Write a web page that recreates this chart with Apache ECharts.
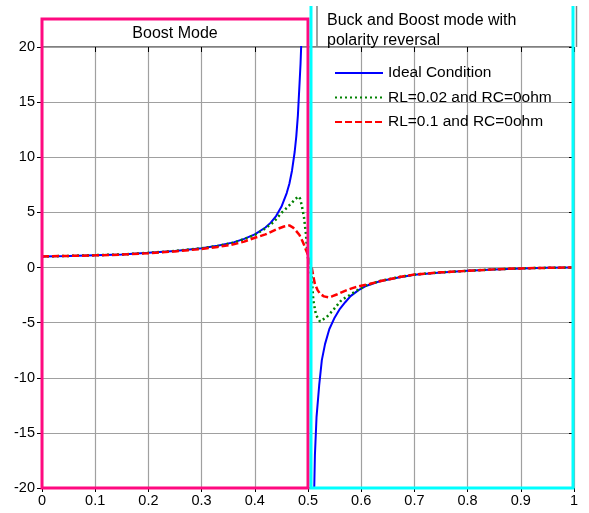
<!DOCTYPE html>
<html>
<head>
<meta charset="utf-8">
<script src="https://cdn.jsdelivr.net/npm/echarts@6/dist/echarts.min.js"></script>
<style>
  html, body { margin: 0; padding: 0; background: #fff; }
  #chart { width: 589px; height: 513px; }
</style>
</head>
<body>
<div id="chart"></div>
<script>
// Voltage gain versus duty ratio D

// Ideal converter, boost branch (D < 0.5)
const dutyIdealBoost = [0, 0.05, 0.1, 0.15, 0.2, 0.25, 0.3, 0.33, 0.36, 0.38, 0.4, 0.42, 0.43, 0.44, 0.45, 0.46, 0.465, 0.47, 0.475, 0.478, 0.481, 0.484, 0.486, 0.4875];
const gainIdealBoost = [1.0, 1.05, 1.12, 1.18, 1.33, 1.5, 1.75, 1.97, 2.28, 2.6, 3.0, 3.63, 4.07, 4.67, 5.5, 6.75, 7.6, 8.8, 10.5, 11.9, 13.8, 16.6, 18.5, 20.5];

// Ideal converter, buck-boost branch with polarity reversal (D > 0.5)
const dutyIdealBuckBoost = [0.5115, 0.513, 0.516, 0.521, 0.526, 0.532, 0.54, 0.55, 0.56, 0.57, 0.58, 0.595, 0.61, 0.635, 0.67, 0.7, 0.75, 0.8, 0.85, 0.9, 0.95, 1.0];
const gainIdealBuckBoost = [-20.5, -17.0, -13.6, -10.7, -8.4, -6.95, -5.6, -4.55, -3.75, -3.15, -2.6, -2.05, -1.65, -1.25, -0.9, -0.65, -0.45, -0.3, -0.18, -0.08, -0.03, 0.0];

// RL = 0.02 ohm, RC = 0 ohm
const dutyRL002 = [0, 0.05, 0.1, 0.15, 0.2, 0.25, 0.3, 0.33, 0.36, 0.38, 0.4, 0.42, 0.435, 0.45, 0.46, 0.47, 0.476, 0.482, 0.485, 0.488, 0.4925, 0.496, 0.4987, 0.502, 0.507, 0.51, 0.515, 0.5225, 0.535, 0.5475, 0.563, 0.58, 0.595, 0.61, 0.635, 0.67, 0.7, 0.75, 0.8, 0.85, 0.9, 0.95, 1.0];
const gainRL002 = [1.0, 1.05, 1.12, 1.18, 1.33, 1.5, 1.75, 1.95, 2.25, 2.58, 2.95, 3.55, 4.1, 4.95, 5.4, 5.9, 6.2, 6.45, 6.25, 5.7, 4.55, 3.1, 1.3, 0.2, -0.9, -3.0, -4.3, -4.9, -4.5, -3.85, -2.95, -2.45, -2.0, -1.62, -1.23, -0.88, -0.64, -0.44, -0.3, -0.17, -0.08, -0.03, 0.0];

// RL = 0.1 ohm, RC = 0 ohm
const dutyRL01 = [0, 0.05, 0.1, 0.15, 0.2, 0.25, 0.3, 0.33, 0.36, 0.38, 0.4, 0.42, 0.44, 0.455, 0.465, 0.472, 0.478, 0.484, 0.489, 0.4925, 0.496, 0.4987, 0.503, 0.507, 0.51, 0.513, 0.518, 0.523, 0.53, 0.538, 0.546, 0.554, 0.563, 0.573, 0.585, 0.6, 0.617, 0.635, 0.67, 0.7, 0.75, 0.8, 0.85, 0.9, 0.95, 1.0];
const gainRL01 = [1.0, 1.05, 1.1, 1.17, 1.3, 1.46, 1.68, 1.86, 2.1, 2.35, 2.7, 3.0, 3.45, 3.72, 3.82, 3.62, 3.3, 2.95, 2.45, 2.06, 1.6, 1.3, 0.6, 0.0, -0.8, -1.5, -2.05, -2.4, -2.62, -2.7, -2.6, -2.45, -2.25, -2.05, -1.85, -1.65, -1.48, -1.25, -0.88, -0.64, -0.44, -0.3, -0.17, -0.08, -0.03, 0.0];

const seriesNames = ['Ideal Condition', 'RL=0.02 and RC=0ohm', 'RL=0.1 and RC=0ohm'];
const regionTitles = ['Boost Mode', 'Buck and Boost mode with', 'polarity reversal'];

const pairs = (xs, ys) => xs.map((x, i) => [x, ys[i]]);

// the ideal gain is unbounded at D = 0.5, so the two branches are split by an empty point
const idealData = pairs(dutyIdealBoost, gainIdealBoost)
  .concat([[0.5, null]])
  .concat(pairs(dutyIdealBuckBoost, gainIdealBuckBoost));

const FONT = '"Liberation Sans", Arial, sans-serif';
const GRID = { left: 42, right: 15, top: 47, bottom: 25 };
const GRID_LINE = { color: '#a0a0a0', width: 1.2 };

const chart = echarts.init(document.getElementById('chart'), null, { renderer: 'canvas' });

const tickStyle = { color: '#000', width: 1 };

const option = {
  animation: false,
  backgroundColor: '#ffffff',
  grid: { ...GRID, show: true, borderColor: '#000', borderWidth: 1, backgroundColor: 'transparent' },
  xAxis: [
    {
      type: 'value',
      min: 0, max: 1, interval: 0.1,
      axisLine: { show: false, onZero: false },
      axisTick: { show: true, inside: false, length: 4, lineStyle: tickStyle },
      axisLabel: { color: '#000', fontSize: 14.5, fontFamily: FONT, margin: 5 },
      splitLine: { show: true, lineStyle: GRID_LINE }
    },
    {
      type: 'value',
      position: 'top',
      min: 0, max: 1, interval: 0.1,
      axisLine: { show: false, onZero: false },
      axisTick: { show: true, inside: true, length: 5, lineStyle: tickStyle },
      axisLabel: { show: false },
      splitLine: { show: false }
    }
  ],
  yAxis: [
    {
      type: 'value',
      min: -20, max: 20, interval: 5,
      axisLine: { show: false, onZero: false },
      axisTick: { show: true, inside: false, length: 5, lineStyle: tickStyle },
      axisLabel: { color: '#000', fontSize: 14.5, fontFamily: FONT, margin: 7 },
      splitLine: { show: true, lineStyle: GRID_LINE }
    },
    {
      type: 'value',
      position: 'right',
      min: -20, max: 20, interval: 5,
      axisLine: { show: false, onZero: false },
      axisTick: { show: true, inside: true, length: 5, lineStyle: tickStyle },
      axisLabel: { show: false },
      splitLine: { show: false }
    }
  ],
  legend: {
    orient: 'vertical',
    left: 334,
    top: 65,
    padding: 0,
    itemWidth: 48,
    itemHeight: 14,
    itemGap: 8.5,
    data: seriesNames,
    itemStyle: { opacity: 0 },
    textStyle: { color: '#000', fontSize: 15.5, fontFamily: FONT },
    backgroundColor: 'transparent'
  },
  series: [
    {
      name: seriesNames[0],
      type: 'line',
      data: idealData,
      symbol: 'none',
      connectNulls: false,
      lineStyle: { color: '#0000ff', width: 2, type: 'solid' },
      itemStyle: { color: '#0000ff' },
      z: 3
    },
    {
      name: seriesNames[1],
      type: 'line',
      data: pairs(dutyRL002, gainRL002),
      symbol: 'none',
      lineStyle: { color: '#008000', width: 2.5, type: [2, 3] },
      itemStyle: { color: '#008000' },
      z: 4
    },
    {
      name: seriesNames[2],
      type: 'line',
      data: pairs(dutyRL01, gainRL01),
      symbol: 'none',
      lineStyle: { color: '#ff0000', width: 2.5, type: [7, 3] },
      itemStyle: { color: '#ff0000' },
      z: 5
    }
  ]
};

chart.setOption(option);

// Region frames and their titles, placed from the axis scale
const toPx = (x, y) => chart.convertToPixel({ gridIndex: 0 }, [x, y]);
const pStart = toPx(0, -20);
const pMid = toPx(0.5, 20);
const pEnd = toPx(1, -20);
const plotTop = pMid[1];
const plotBottom = pStart[1];
const cyanLeft = pMid[0] + 3;
const cyanRight = pEnd[0] - 1;
const boxTop = 6;

chart.setOption({
  graphic: [
    {
      type: 'rect', z: 100, silent: true,
      shape: { x: pStart[0], y: plotTop - 28, width: pMid[0] - pStart[0], height: plotBottom - plotTop + 28 },
      style: { fill: 'none', stroke: '#ff0a80', lineWidth: 3 }
    },
    {
      type: 'text', z: 100, silent: true,
      x: (pStart[0] + pMid[0]) / 2, y: plotTop - 13,
      style: { text: regionTitles[0], fill: '#000', font: '16px ' + FONT, align: 'center', verticalAlign: 'middle' }
    },
    {
      type: 'polyline', z: 100, silent: true,
      shape: { points: [[cyanLeft, boxTop], [cyanLeft, plotBottom], [cyanRight, plotBottom], [cyanRight, boxTop]] },
      style: { fill: 'none', stroke: '#00ffff', lineWidth: 3 }
    },
    {
      type: 'line', z: 99, silent: true,
      shape: { x1: cyanLeft + 6, y1: boxTop, x2: cyanLeft + 6, y2: plotTop },
      style: { stroke: '#808080', lineWidth: 1.5 }
    },
    {
      type: 'line', z: 99, silent: true,
      shape: { x1: cyanRight + 3.5, y1: boxTop, x2: cyanRight + 3.5, y2: plotTop },
      style: { stroke: '#808080', lineWidth: 1.5 }
    },
    {
      type: 'text', z: 100, silent: true,
      x: cyanLeft + 16, y: boxTop + 15,
      style: { text: regionTitles[1], fill: '#000', font: '16px ' + FONT, align: 'left', verticalAlign: 'middle' }
    },
    {
      type: 'text', z: 100, silent: true,
      x: cyanLeft + 16, y: boxTop + 35,
      style: { text: regionTitles[2], fill: '#000', font: '16px ' + FONT, align: 'left', verticalAlign: 'middle' }
    }
  ]
});
</script>
</body>
</html>
